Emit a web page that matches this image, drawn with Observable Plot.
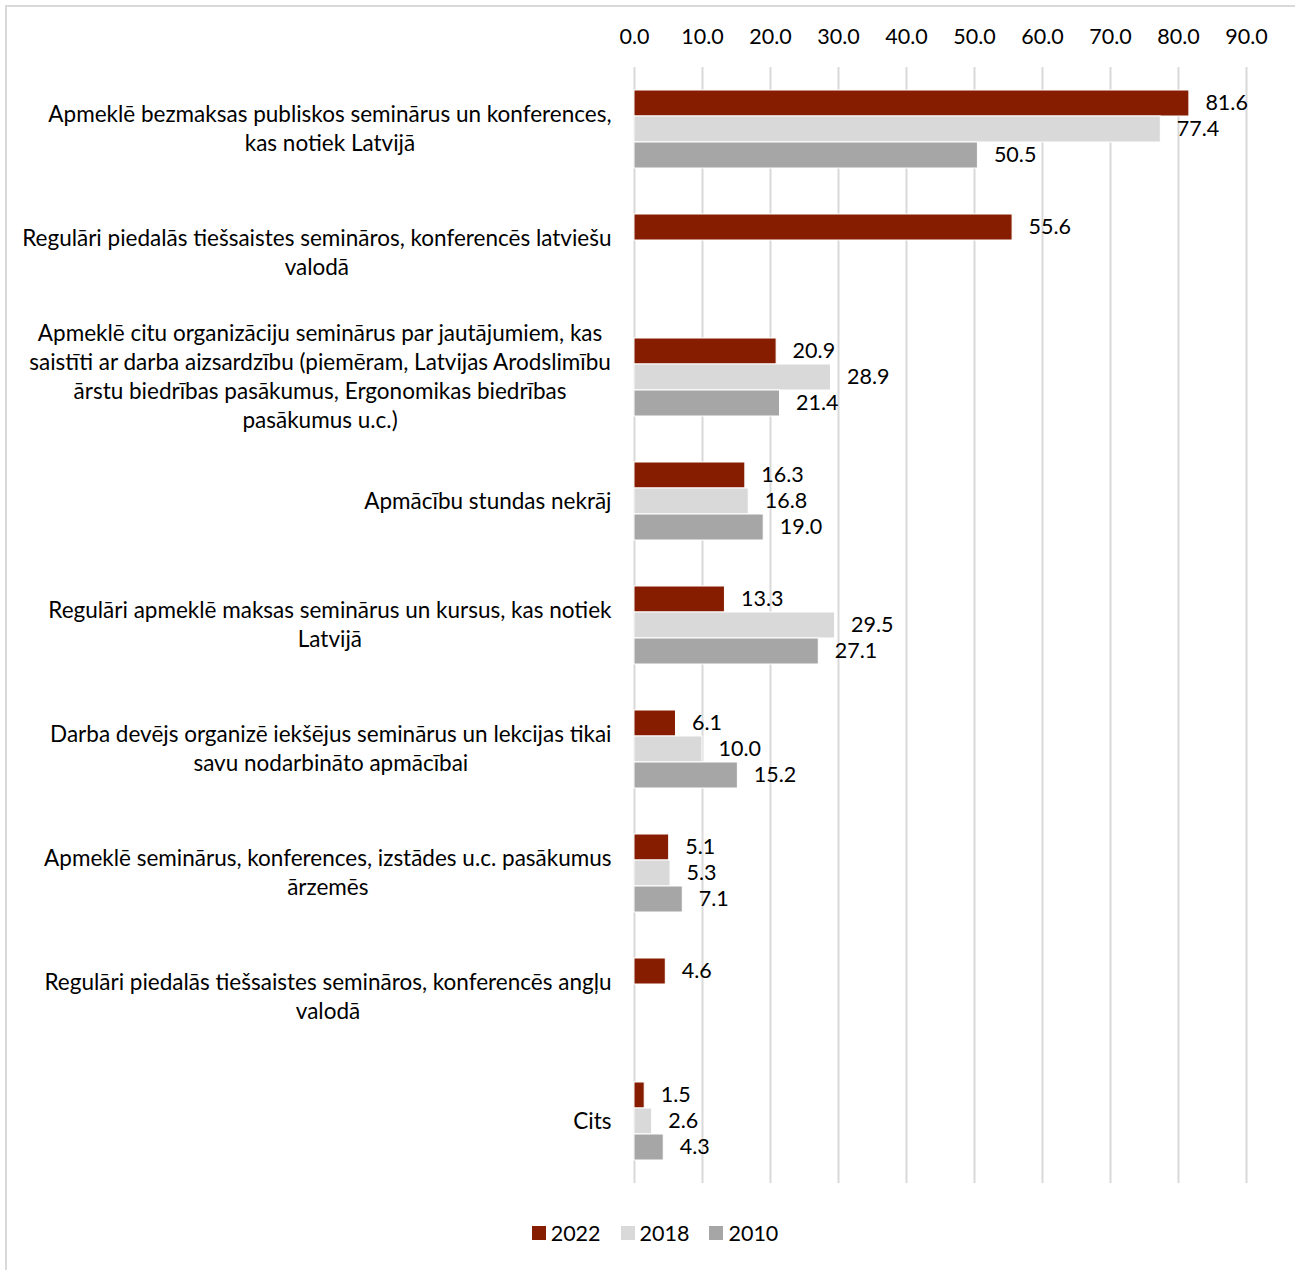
<!DOCTYPE html>
<html>
<head>
<meta charset="utf-8">
<script src="https://cdn.jsdelivr.net/npm/d3@7"></script>
<script src="https://cdn.jsdelivr.net/npm/@observablehq/plot@0.6"></script>
<style>
  html, body { margin: 0; padding: 0; background: #fff; }
  body { width: 1295px; height: 1270px; position: relative; overflow: hidden; font-family: Lato, "Open Sans", sans-serif; }
  #frame { position: absolute; left: 5px; top: 5px; width: 1300px; height: 1280px; border-left: 2px solid #d9d9d9; border-top: 2px solid #d9d9d9; box-sizing: border-box; }
  #chart { position: absolute; left: 0; top: 0; }
  #legend { position: absolute; top: 1220px; left: 0; width: 1310px; display: flex; justify-content: center; gap: 20px; font-size: 21.5px; color: #000; }
  #legend .item { display: flex; align-items: center; gap: 5px; }
  #legend .sw { width: 14px; height: 14px; display: inline-block; }
</style>
</head>
<body>
<div id="frame"></div>
<div id="chart"></div>
<div id="legend"></div>
<script>
const categories = [
  "Apmeklē bezmaksas publiskos seminārus un konferences,\nkas notiek Latvijā",
  "Regulāri piedalās tiešsaistes semināros, konferencēs latviešu\nvalodā",
  "Apmeklē citu organizāciju seminārus par jautājumiem, kas\nsaistīti ar darba aizsardzību (piemēram, Latvijas Arodslimību\nārstu biedrības pasākumus, Ergonomikas biedrības\npasākumus u.c.)",
  "Apmācību stundas nekrāj",
  "Regulāri apmeklē maksas seminārus un kursus, kas notiek\nLatvijā",
  "Darba devējs organizē iekšējus seminārus un lekcijas tikai\nsavu nodarbināto apmācībai",
  "Apmeklē seminārus, konferences, izstādes u.c. pasākumus\nārzemēs",
  "Regulāri piedalās tiešsaistes semināros, konferencēs angļu\nvalodā",
  "Cits"
];
const years = ["2022", "2018", "2010"];
const values2022 = [81.6, 55.6, 20.9, 16.3, 13.3, 6.1, 5.1, 4.6, 1.5];
const values2018 = [77.4, null, 28.9, 16.8, 29.5, 10.0, 5.3, null, 2.6];
const values2010 = [50.5, null, 21.4, 19.0, 27.1, 15.2, 7.1, null, 4.3];
const xTicks = [0, 10, 20, 30, 40, 50, 60, 70, 80, 90];
const colors = ["#861d00", "#d9d9d9", "#a6a6a6"];

const series = [values2022, values2018, values2010];
const rows = [];
categories.forEach((c, i) => {
  years.forEach((y, j) => {
    const v = series[j][i];
    if (v != null) rows.push({category: c, year: y, value: v});
  });
});

const FONT = "Lato, 'Open Sans', sans-serif";
const FS = 21.5;
const LFS = 22.5;
const ctx = document.createElement("canvas").getContext("2d");
ctx.font = `${LFS}px Lato`;
const blockWidth = (s) => Math.max(...s.split("\n").map(l => ctx.measureText(l).width));

const labelMarks = categories.map(c => Plot.text([c], {
  fy: d => d,
  text: d => d,
  frameAnchor: "left",
  textAnchor: "middle",
  lineHeight: 1.29,
  fontSize: LFS,
  fill: "#000",
  dy: -2,
  dx: -23 - blockWidth(c) / 2
}));

const chart = Plot.plot({
  width: 1295,
  height: 1184,
  marginLeft: 634,
  marginRight: 49,
  marginTop: 67,
  marginBottom: 1,
  style: {fontFamily: FONT, fontSize: FS + "px", color: "#000", background: "transparent", overflow: "visible"},
  x: {domain: [0, 90], axis: "top", ticks: xTicks, tickFormat: d => d.toFixed(1), tickSize: 0, tickPadding: 24, label: null},
  fy: {domain: categories, padding: 0, axis: null, label: null},
  y: {domain: years, axis: null, paddingInner: 0, paddingOuter: 0.86},
  color: {domain: years, range: colors},
  marks: [
    Plot.ruleX(xTicks, {x: d => d, stroke: "#d9d9d9", strokeWidth: 2}),
    Plot.barX(rows, {fy: "category", y: "year", x: "value", fill: "year", stroke: "#fff", strokeWidth: 1}),
    Plot.text(rows, {fy: "category", y: "year", x: "value", text: d => d.value.toFixed(1), textAnchor: "start", dx: 16, fontSize: FS, fill: "#000"}),
    ...labelMarks
  ]
});
document.getElementById("chart").appendChild(chart);

const legend = document.getElementById("legend");
years.forEach((y, i) => {
  const item = document.createElement("div");
  item.className = "item";
  item.innerHTML = `<span class="sw" style="background:${colors[i]}"></span><span>${y}</span>`;
  legend.appendChild(item);
});
</script>
</body>
</html>
